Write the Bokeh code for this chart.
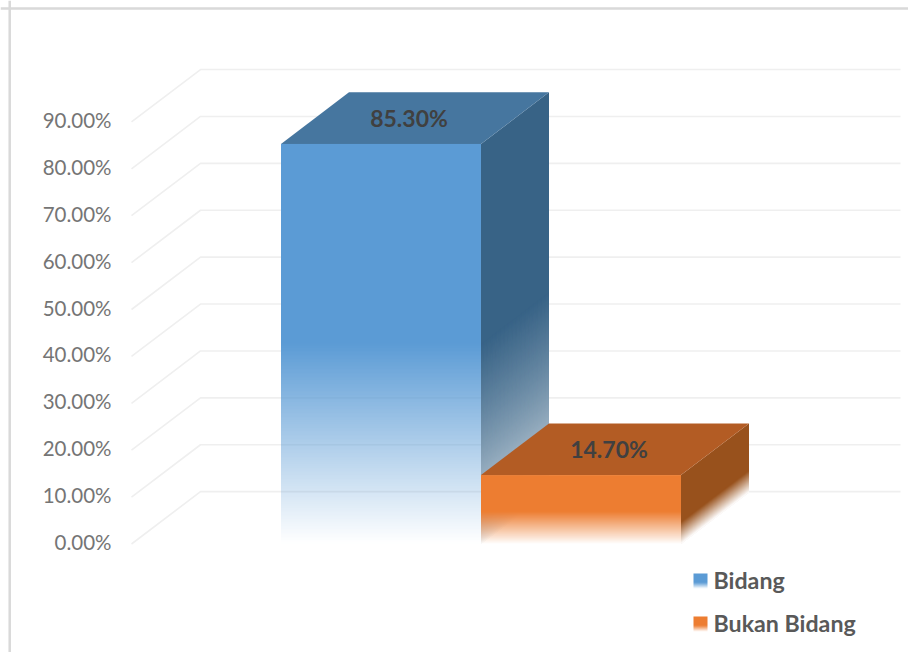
import numpy as np
from bokeh.embed import file_html
from bokeh.resources import INLINE
from bokeh.plotting import figure
from bokeh.models import Range1d, LinearAxis, FixedTicker, Span
from bokeh.core.properties import value

# ---- chart data ----
categories = ["Bidang", "Bukan Bidang"]
values = [85.30, 14.70]
value_labels = ["85.30%", "14.70%"]
tick_values = [0, 10, 20, 30, 40, 50, 60, 70, 80, 90]
tick_labels = ["0.00%", "10.00%", "20.00%", "30.00%", "40.00%", "50.00%", "60.00%", "70.00%", "80.00%", "90.00%"]
front_colors = ["#5b9bd5", "#ed7d31"]
top_colors = ["#46769f", "#b35c24"]
side_colors = ["#386386", "#98511c"]

# ---- layout ----
W, H = 908, 652
PX_X = 200.0        # pixels per bar width
PX_Y = 4.69         # pixels per percentage point
ZERO_PX = 543.5
C0_PX = 380.5
DX = 68 / PX_X
DY = 11.0
FONT = "Lato"


def bx(px):
    return (px - C0_PX) / PX_X


def by(py):
    return (ZERO_PX - py) / PX_Y


def rgb_of(hex_color):
    return [int(hex_color[i:i + 2], 16) for i in (1, 3, 5)]


def blend(hex_color, alpha):
    return "#%02x%02x%02x" % tuple(round(255 + (c - 255) * alpha) for c in rgb_of(hex_color))


def fade_image(hex_color, rows, fade_rows):
    """Column of RGBA pixels, bottom row first: fades in over fade_rows rows, solid above."""
    r, g, b = rgb_of(hex_color)
    img = np.zeros((rows, 1), dtype=np.uint32)
    view = img.view(dtype=np.uint8).reshape((rows, 1, 4))
    for k in range(rows):
        a = min(1.0, (k + 0.5) / fade_rows)
        view[k, 0] = (r, g, b, round(255 * a))
    return img


x_range = Range1d(bx(0), bx(W))
y_range = Range1d(by(H), by(0))
p = figure(width=W, height=H, x_range=x_range, y_range=y_range,
           output_backend="svg", toolbar_location=None, min_border=0,
           x_axis_location=None, y_axis_location=None)
p.grid.visible = False
p.outline_line_color = None
p.background_fill_color = "white"

# outer chart-area frame
p.add_layout(Span(location=bx(9.2), dimension="height", line_color="#d9d9d9", line_width=2.5))
p.add_layout(Span(location=by(8.0), dimension="width", line_color="#d9d9d9", line_width=2.5))

# y axis whose labels sit 2 px above the front end of each gridline
p.extra_y_ranges = {"labels": Range1d(y_range.start - 2 / PX_Y, y_range.end - 2 / PX_Y)}
axis = LinearAxis(y_range_name="labels", fixed_location=bx(111),
                  ticker=FixedTicker(ticks=tick_values),
                  major_label_overrides=dict(zip(tick_values, tick_labels)),
                  axis_line_color=None, major_tick_line_color=None, minor_tick_line_color=None,
                  major_tick_out=0, major_tick_in=0, major_label_standoff=0,
                  major_label_text_font=FONT, major_label_text_font_size="20.5px",
                  major_label_text_color="#757575")
p.add_layout(axis, "left")

# gridlines: front-left wall edge plus back wall
wall_x0, wall_x1, wall_x2 = bx(131), bx(200), bx(900)
wall_dy = DY * (wall_x1 - wall_x0) / DX
for t in tick_values:
    p.line([wall_x0, wall_x1, wall_x2], [t, t + wall_dy, t + wall_dy],
           line_color="#efefef", line_width=1.6)

FRONT_FADE = [0.5, 0.46]
SIDE_FADE = [0.5, 0.32]
SIDE_GAMMA = [0.6, 1.0]
for i, (v, cf, ct, cs) in enumerate(zip(values, front_colors, top_colors, side_colors)):
    x0, x1 = i - 0.5, i + 0.5
    fade_px = round(v * FRONT_FADE[i] * PX_Y)
    side_px = round(v * SIDE_FADE[i] * PX_Y)

    # side face: overlapping strips painted top to bottom so the fade has no seams
    solid_lo = (side_px - 3) / PX_Y
    p.patch([x1, x1 + DX, x1 + DX, x1], [v, v + DY, solid_lo + DY, solid_lo],
            fill_color=cs, line_color=None)
    for k in range(side_px, 0, -1):
        hi = k / PX_Y
        lo = max(k - 3, 0) / PX_Y
        a = ((k - 0.5) / side_px) ** SIDE_GAMMA[i]
        p.patch([x1, x1 + DX, x1 + DX, x1], [hi, hi + DY, lo + DY, lo],
                fill_color=blend(cs, a), line_color=None)

    # top face
    p.patch([x0, x0 + DX, x1 + DX, x1], [v, v + DY, v + DY, v], fill_color=ct, line_color=None)

    # front face: a single translucent gradient
    rows = round(v * PX_Y)
    p.image_rgba(image=[fade_image(cf, rows, fade_px)], x=[x0], y=[0], dw=[x1 - x0], dh=[v])

    # data label
    p.text([i + DX / 2], [v + DY / 2], text=[value_labels[i]], x_offset=-6, y_offset=-0.5,
           text_align="center", text_baseline="middle", text_font=value(FONT),
           text_font_style="bold", text_font_size="23px", text_color="#404040")

# legend, drawn with the same fade as the bars
legend_top_px = [573, 616]
for name, cf, top_px in zip(categories, front_colors, legend_top_px):
    rows = 15
    p.image_rgba(image=[fade_image(cf, rows, 6)], x=[bx(693)], y=[by(top_px + rows)],
                 dw=[14 / PX_X], dh=[rows / PX_Y])
    p.text([bx(713)], [by(top_px + 6.5)], text=[name], text_align="left", text_baseline="middle",
           text_font=value(FONT), text_font_style="bold", text_font_size="23.2px", text_color="#595959")

open("out.html", "w").write(file_html(p, INLINE))
